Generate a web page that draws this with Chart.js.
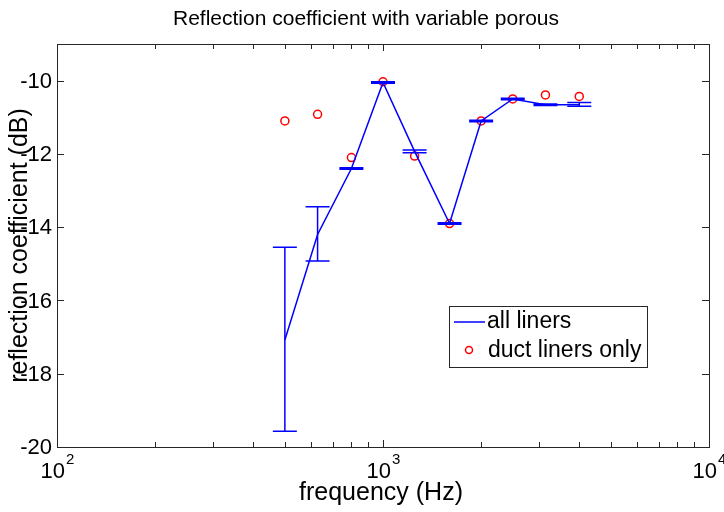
<!DOCTYPE html>
<html>
<head>
<meta charset="utf-8">
<script src="https://cdn.jsdelivr.net/npm/chart.js@4.4.1/dist/chart.umd.min.js"></script>
<style>
  html, body { margin: 0; padding: 0; background: #fff; }
  #wrap { width: 724px; height: 512px; }
</style>
</head>
<body>
<div id="wrap"><canvas id="chart"></canvas></div>
<script>
// ── Data ─────────────────────────────────────────────────────
const freq      = [500, 630, 800, 1000, 1250, 1600, 2000, 2500, 3150, 4000];
const allLiners = [-17.08, -14.2, -12.4, -10.05, -11.93, -13.9, -11.1, -10.5, -10.66, -10.66];
const errLow    = [-19.57, -14.92, -12.42, -10.07, -11.97, -13.92, -11.12, -10.52, -10.68, -10.70];
const errHigh   = [-14.55, -13.44, -12.38, -10.03, -11.89, -13.88, -11.08, -10.48, -10.64, -10.60];
const ductOnly  = [-11.1, -10.92, -12.1, -10.03, -12.06, -13.9, -11.1, -10.5, -10.39, -10.43];

// stray filled markers just right of the axes
const extraX = [10580, 10580];
const extraY = [-10.05, -16.4];

const xMajor    = [100, 1000, 10000];
const xMajorExp = ['2', '3', '4'];
const yTicks    = [-20, -18, -16, -14, -12, -10];

const FONT = "'Liberation Sans', Arial, Helvetica, sans-serif";
const AXIS = '#262626';

function pts(xs, ys) { return xs.map((x, i) => ({ x, y: ys[i] })); }

// ── Error bars on "all liners" ────────────────────────────────
const errorBars = {
  id: 'errorBars',
  afterDatasetsDraw(chart) {
    const { ctx, scales: { x, y } } = chart;
    ctx.save();
    ctx.strokeStyle = '#0000ff';
    ctx.lineWidth = 1.5;
    freq.forEach((f, i) => {
      const px = x.getPixelForValue(f);
      const lo = y.getPixelForValue(errLow[i]);
      const hi = y.getPixelForValue(errHigh[i]);
      ctx.beginPath();
      ctx.moveTo(px, lo); ctx.lineTo(px, hi);
      ctx.moveTo(px - 12, lo); ctx.lineTo(px + 12, lo);
      ctx.moveTo(px - 12, hi); ctx.lineTo(px + 12, hi);
      ctx.stroke();
    });
    ctx.restore();
  }
};

// ── MATLAB-style box, inward ticks, labels, legend ───────────
const matlabFrame = {
  id: 'matlabFrame',
  beforeDraw(chart) {
    const { ctx, width, height } = chart;
    ctx.save();
    ctx.fillStyle = '#fff';
    ctx.fillRect(0, 0, width, height);
    ctx.restore();
  },
  afterDraw(chart) {
    const { ctx, chartArea: a, scales: { x, y } } = chart;
    ctx.save();
    ctx.strokeStyle = AXIS;
    ctx.lineWidth = 1;
    ctx.strokeRect(a.left + 0.5, a.top + 0.5, a.right - a.left, a.bottom - a.top);

    ctx.beginPath();
    // x ticks: majors and log minors
    for (let d = 100; d < 10000; d *= 10) {
      for (let k = 1; k < 10; k++) {
        const px = Math.round(x.getPixelForValue(d * k)) + 0.5;
        const len = k === 1 ? 7 : 5;
        ctx.moveTo(px, a.bottom); ctx.lineTo(px, a.bottom - len);
        ctx.moveTo(px, a.top); ctx.lineTo(px, a.top + len);
      }
    }
    // y ticks
    yTicks.forEach(v => {
      const py = Math.round(y.getPixelForValue(v)) + 0.5;
      ctx.moveTo(a.left, py); ctx.lineTo(a.left + 7, py);
      ctx.moveTo(a.right, py); ctx.lineTo(a.right - 7, py);
    });
    ctx.stroke();

    ctx.fillStyle = '#000';
    // y tick labels
    ctx.font = '22px ' + FONT;
    ctx.textAlign = 'right';
    ctx.textBaseline = 'middle';
    yTicks.forEach(v => ctx.fillText(String(v), a.left - 5, y.getPixelForValue(v) + 1));

    // x tick labels: 10 with superscript exponent
    ctx.textBaseline = 'alphabetic';
    ctx.textAlign = 'left';
    xMajor.forEach((v, i) => {
      ctx.font = '22px ' + FONT;
      const wBase = ctx.measureText('10').width;
      ctx.font = '15px ' + FONT;
      const wExp = ctx.measureText(xMajorExp[i]).width;
      const px = x.getPixelForValue(v) - (wBase + wExp) / 2;
      ctx.font = '22px ' + FONT;
      ctx.fillText('10', px, a.bottom + 31);
      ctx.font = '15px ' + FONT;
      ctx.fillText(xMajorExp[i], px + wBase + 1, a.bottom + 17);
    });

    // axis titles
    ctx.font = '25px ' + FONT;
    ctx.textAlign = 'center';
    ctx.fillText('frequency (Hz)', 381, a.bottom + 53);
    ctx.save();
    ctx.translate(27, (a.top + a.bottom) / 2);
    ctx.rotate(-Math.PI / 2);
    ctx.fillText('reflection coefficient (dB)', 0, 0);
    ctx.restore();

    // chart title
    ctx.font = '21px ' + FONT;
    ctx.fillText('Reflection coefficient with variable porous', 366, 25);

    // legend box
    ctx.fillStyle = '#fff';
    ctx.fillRect(449, 306, 198, 61);
    ctx.strokeStyle = AXIS;
    ctx.strokeRect(449.5, 306.5, 198, 61);
    ctx.strokeStyle = '#0000ff';
    ctx.lineWidth = 1.5;
    ctx.beginPath();
    ctx.moveTo(454, 322); ctx.lineTo(485, 322);
    ctx.stroke();
    ctx.strokeStyle = '#ff0000';
    ctx.beginPath();
    ctx.arc(469, 350, 3.5, 0, Math.PI * 2);
    ctx.stroke();
    ctx.fillStyle = '#000';
    ctx.font = '23px ' + FONT;
    ctx.textAlign = 'left';
    ctx.textBaseline = 'middle';
    ctx.fillText('all liners', 487, 322);
    ctx.fillText('duct liners only', 488, 351);
    ctx.restore();
  }
};

new Chart(document.getElementById('chart'), {
  type: 'line',
  data: {
    datasets: [
      {
        label: 'all liners',
        data: pts(freq, allLiners),
        borderColor: '#0000ff',
        borderWidth: 1.5,
        pointRadius: 0,
        fill: false,
        tension: 0
      },
      {
        label: 'duct liners only',
        data: pts(freq, ductOnly),
        showLine: false,
        pointStyle: 'circle',
        pointRadius: 4,
        pointBorderWidth: 1.5,
        borderColor: '#ff0000',
        backgroundColor: 'rgba(0,0,0,0)'
      },
      {
        label: 'extra',
        data: pts(extraX, extraY),
        showLine: false,
        pointRadius: 6.5,
        pointBorderWidth: 0,
        borderColor: '#e00000',
        backgroundColor: '#e00000',
        clip: false
      }
    ]
  },
  options: {
    responsive: true,
    maintainAspectRatio: false,
    animation: false,
    layout: { padding: { left: 57, right: 15, top: 44, bottom: 65 } },
    plugins: { legend: { display: false }, tooltip: { enabled: false } },
    scales: {
      x: { type: 'logarithmic', min: 100, max: 10000, display: false },
      y: { type: 'linear', min: -20, max: -9, display: false }
    }
  },
  plugins: [matlabFrame, errorBars]
});
</script>
</body>
</html>
